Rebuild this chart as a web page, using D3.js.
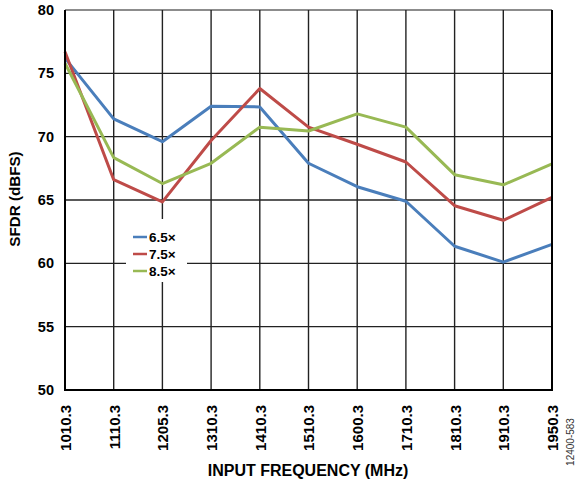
<!DOCTYPE html>
<html><head><meta charset="utf-8">
<script src="https://cdn.jsdelivr.net/npm/d3@7"></script>
<style>body{margin:0;background:#fff}svg{display:block}text{font-family:Arial,"Liberation Sans",sans-serif}</style>
</head><body>
<svg id="c" width="577" height="482"></svg>
<script>
const categories = ["1010.3","1110.3","1205.3","1310.3","1410.3","1510.3","1600.3","1710.3","1810.3","1910.3","1950.3"];
const seriesNames = ["6.5×","7.5×","8.5×"];
const s65 = [76.2,71.4,69.6,72.4,72.35,67.9,66.05,64.9,61.35,60.1,61.5];
const s75 = [76.7,66.6,64.85,69.7,73.8,70.75,69.4,68.0,64.55,63.4,65.2];
const s85 = [75.8,68.35,66.3,67.9,70.75,70.45,71.8,70.75,67.0,66.2,67.85];
const yTicks = [50,55,60,65,70,75,80];
const colors = ["#4a7ebb","#be4b48","#98b954"];

const svg = d3.select("#c");
const L=65,R=552,T=10,B=390;
const x = d3.scalePoint().domain(categories).range([L,R]);
const y = d3.scaleLinear().domain([50,80]).range([B,T]);

// grid
const g = svg.append("g");
g.selectAll(".h").data(yTicks).join("line")
 .attr("x1",L).attr("x2",R).attr("y1",d=>y(d)).attr("y2",d=>y(d))
 .attr("stroke",d=>d===80?"#666":"#222").attr("stroke-width",1.4);
g.selectAll(".v").data(categories).join("line")
 .attr("x1",d=>x(d)).attr("x2",d=>x(d)).attr("y1",T).attr("y2",B)
 .attr("stroke","#222").attr("stroke-width",1.4);

// lines
const data = [s65,s75,s85];
const line = d3.line().x((d,i)=>x(categories[i])).y(d=>y(d));
svg.selectAll(".s").data(data).join("path")
 .attr("d",line).attr("fill","none").attr("stroke",(d,i)=>colors[i])
 .attr("stroke-width",3).attr("stroke-linejoin","round");

// border
svg.append("line").attr("x1",L).attr("x2",L).attr("y1",T).attr("y2",B+1).attr("stroke","#000").attr("stroke-width",2);
svg.append("line").attr("x1",L-1).attr("x2",R+1).attr("y1",B).attr("y2",B).attr("stroke","#000").attr("stroke-width",2);
svg.append("line").attr("x1",R).attr("x2",R).attr("y1",T).attr("y2",B+1).attr("stroke","#000").attr("stroke-width",2);

// legend
const lg = svg.append("g");
lg.append("rect").attr("x",126).attr("y",219).attr("width",61).attr("height",63).attr("fill","#fff");
const ly = [237,254,271];
seriesNames.forEach((n,i)=>{
  lg.append("line").attr("x1",133).attr("x2",147).attr("y1",ly[i]).attr("y2",ly[i]).attr("stroke",colors[i]).attr("stroke-width",2.5);
  lg.append("text").attr("x",149).attr("y",ly[i]+4.7).attr("font-size",13.5).attr("font-weight","bold").text(n);
});

// y axis labels
const ya = d3.axisLeft(y).tickValues(yTicks).tickSize(0).tickPadding(11);
const yg = svg.append("g").attr("transform",`translate(${L},0)`).call(ya);
yg.select(".domain").remove();
yg.selectAll("text").attr("font-size",14.5).attr("font-weight","bold").attr("fill","#000").attr("font-family","Arial,'Liberation Sans',sans-serif");

// x axis labels
const xa = d3.axisBottom(x).tickSize(0);
const xg = svg.append("g").attr("transform",`translate(0,${B})`).call(xa);
xg.select(".domain").remove();
xg.selectAll("text").attr("font-size",15).attr("font-weight","bold").attr("fill","#000")
 .attr("font-family","Arial,'Liberation Sans',sans-serif")
 .attr("transform","rotate(-90)").attr("text-anchor","end").attr("x",-15).attr("y",0).attr("dy","0.36em");

// titles
svg.append("text").attr("x",308).attr("y",476).attr("text-anchor","middle").attr("font-size",16).attr("font-weight","bold").text("INPUT FREQUENCY (MHz)");
svg.append("text").attr("transform","translate(20,199) rotate(-90)").attr("text-anchor","middle").attr("font-size",15.2).attr("font-weight","bold").text("SFDR (dBFS)");
svg.append("text").attr("transform","translate(574,442) rotate(-90)").attr("text-anchor","middle").attr("font-size",10).attr("fill","#333").text("12400-583");
</script>
</body></html>
